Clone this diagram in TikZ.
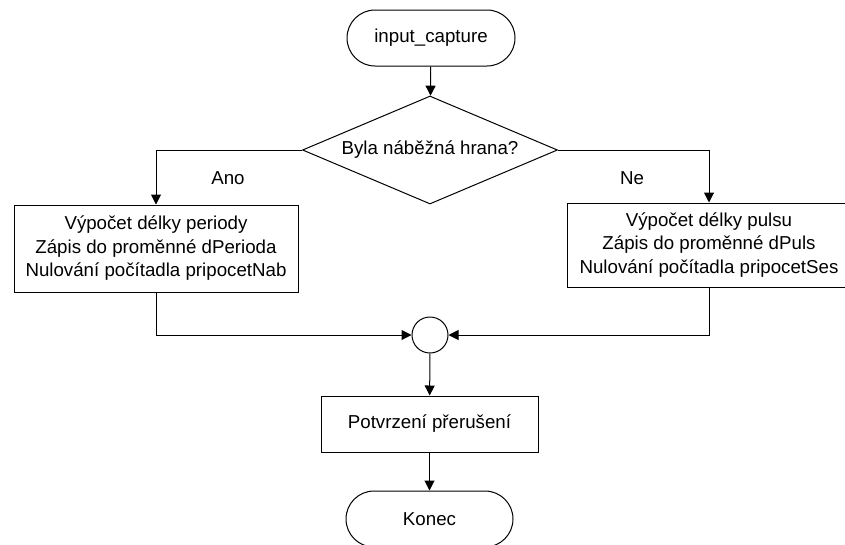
\documentclass[tikz,border=0pt]{standalone}
\usepackage{fontspec}
\setmainfont{Liberation Sans}
\usetikzlibrary{shapes.geometric,arrows.meta}
\begin{document}
\begin{tikzpicture}[x=1pt,y=-1pt,
  every node/.style={font=\fontsize{18.7}{23.5}\selectfont, inner sep=0pt},
  line/.style={line width=1pt},
  arr/.style={line, -{Triangle[length=10pt,width=10pt]}},
  terminal/.style={draw, line, rectangle, rounded corners=28pt, minimum width=168pt, minimum height=56pt},
  process/.style={draw, line, rectangle, align=center},
  decision/.style={draw, line, diamond, aspect=2.36, minimum width=255pt, minimum height=108pt},
  junction/.style={draw, line, circle, minimum size=36pt}]
\useasboundingbox (0,0) rectangle (845,544);
\clip (0,0) rectangle (845,544);

% nodes
\node[terminal] (start) at (431,38) {input\_capture};
\node[decision] (dec) at (430,150) {Byla náběžná hrana?};
\node[process, minimum width=284pt, minimum height=87pt] (lbox) at (156,248.5)
  {Výpočet délky periody\\Zápis do proměnné dPerioda\\Nulování počítadla pripocetNab};
\node[process, minimum width=284pt, minimum height=84pt] (rbox) at (709,245)
  {Výpočet délky pulsu\\Zápis do proměnné dPuls\\Nulování počítadla pripocetSes};
\node[junction] (merge) at (430,335) {};
\node[process, minimum width=217pt, minimum height=56pt] (ack) at (429.5,424) {Potvrzení přerušení};
\node[terminal, minimum width=167pt] (end) at (429.5,519) {Konec};

% branch labels
\node (ano) at (228,178) {Ano};
\node (ne) at (632,178) {Ne};

% connectors
\draw[arr] (start) -- (dec);
\draw[arr] (dec.west) -| (lbox.north);
\draw[arr] (dec.east) -| (rbox.north);
\draw[arr] (lbox.south) |- (merge.west);
\draw[arr] (rbox.south) |- (merge.east);
\draw[arr] (merge) -- (ack);
\draw[arr] (ack) -- (end);
\end{tikzpicture}
\end{document}
